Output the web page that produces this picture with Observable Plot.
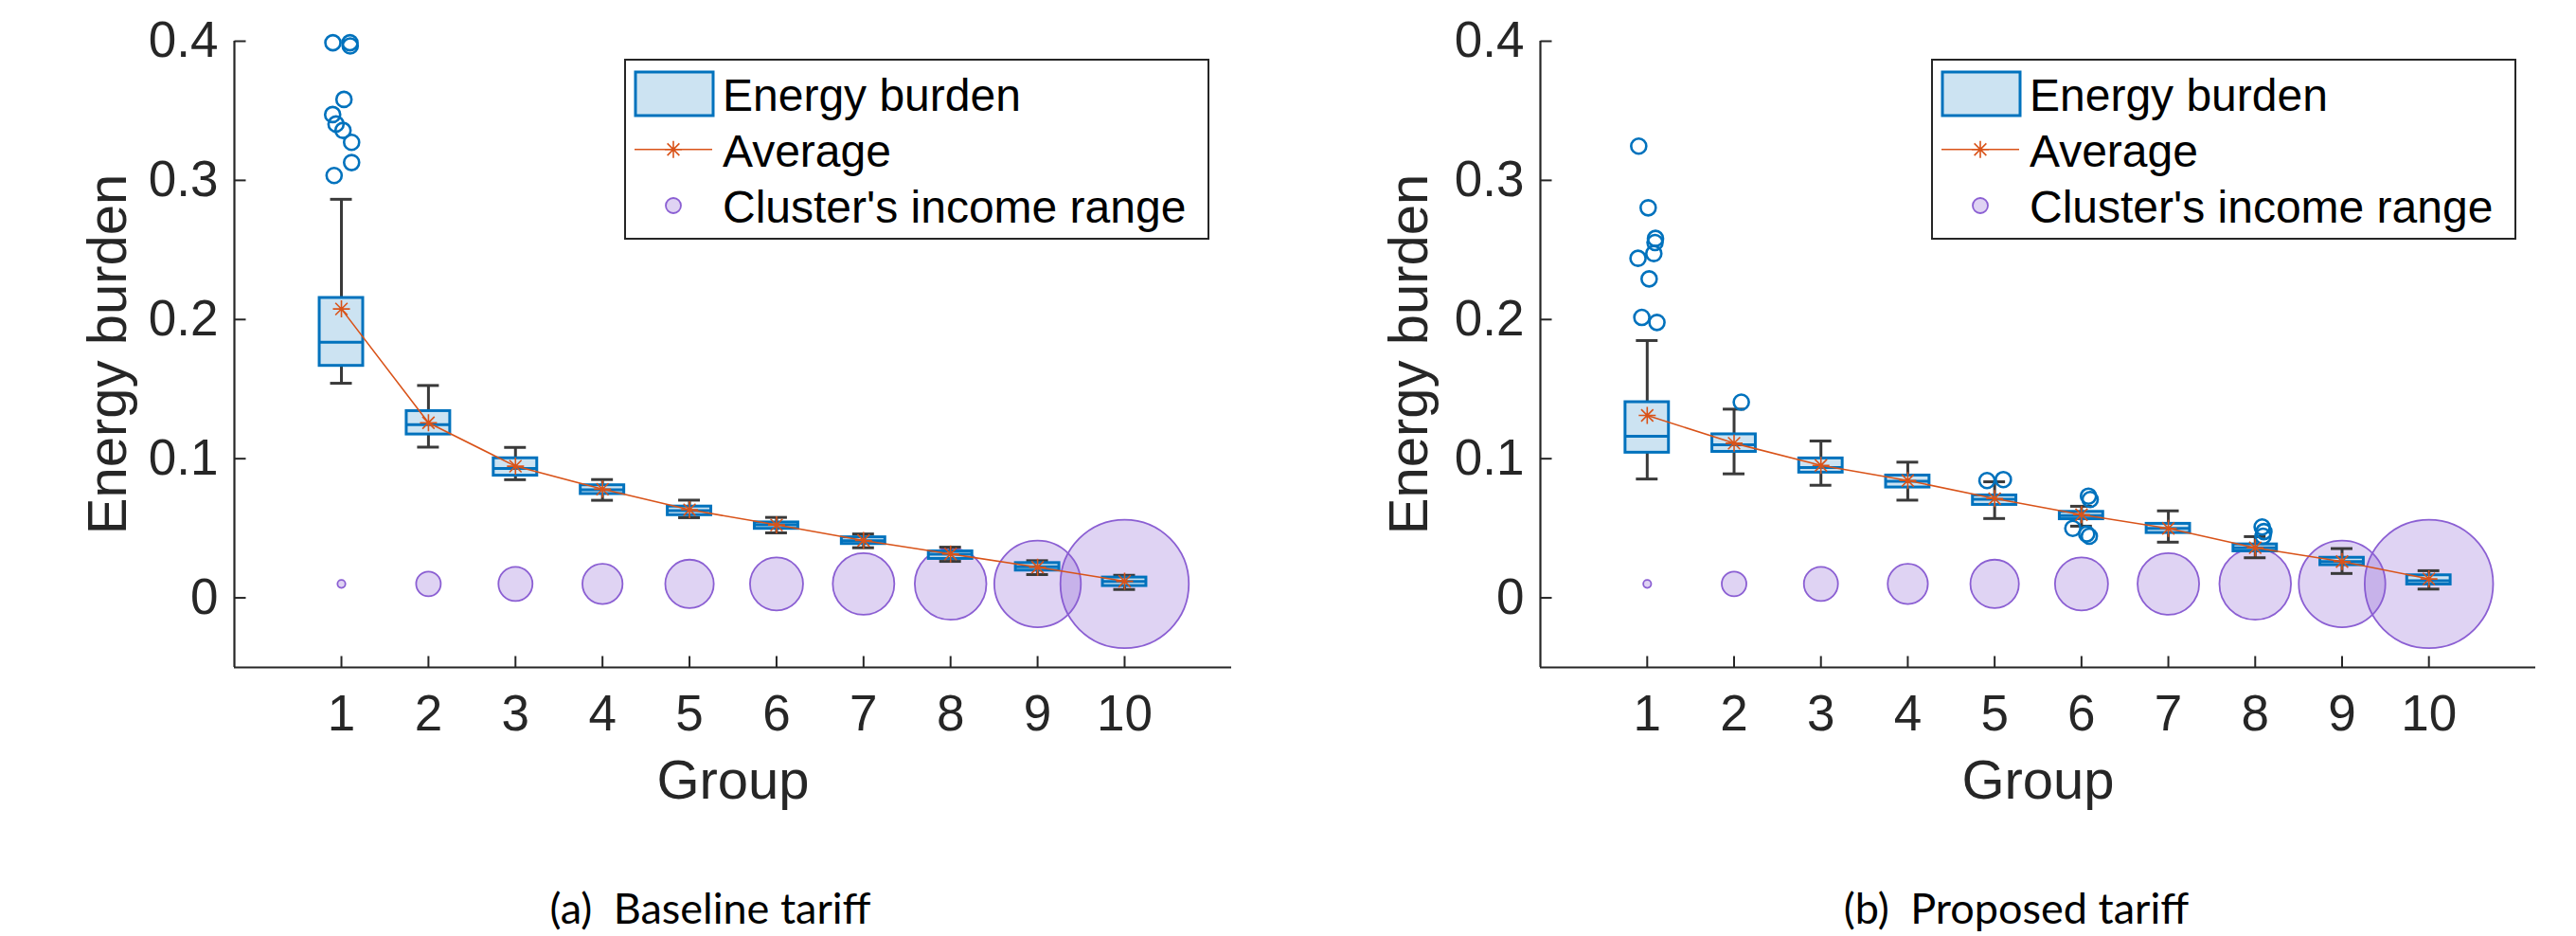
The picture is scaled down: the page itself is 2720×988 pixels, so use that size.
<!DOCTYPE html>
<html>
<head>
<meta charset="utf-8">
<script src="https://cdn.jsdelivr.net/npm/d3@7"></script>
<script src="https://cdn.jsdelivr.net/npm/@observablehq/plot@0.6"></script>
<style>
  html, body { margin: 0; padding: 0; background: #fff; }
  #page { position: relative; width: 2720px; height: 988px; overflow: hidden; font-family: "Liberation Sans", Arial, sans-serif; }
  .panel { position: absolute; top: 0; }
  #overlay { position: absolute; left: 0; top: 0; pointer-events: none; }
</style>
</head>
<body>
<div id="page"></div>
<script>
// ---------------- DATA ----------------
const groups = [1, 2, 3, 4, 5, 6, 7, 8, 9, 10];
const yTicks = [0, 0.1, 0.2, 0.3, 0.4];
const yTickLabels = ["0", "0.1", "0.2", "0.3", "0.4"];
const xDomain = [-0.23, 11.23];
const yDomain = [-0.05, 0.4];
const yLabel = "Energy burden";
const xLabel = "Group";
const legendLabels = ["Energy burden", "Average", "Cluster's income range"];
const captions = ["(a)\u2002Baseline tariff", "(b)\u2002Proposed tariff"];

// (a) Baseline tariff — box plot summary per group
const baseWhiskerLow  = [0.1542, 0.1083, 0.0849, 0.0701, 0.0576, 0.0467, 0.0360, 0.0262, 0.0167, 0.0060];
const baseQ1          = [0.1667, 0.1174, 0.0878, 0.0746, 0.0594, 0.0496, 0.0387, 0.0280, 0.0196, 0.0085];
const baseMedian      = [0.1837, 0.1245, 0.0930, 0.0776, 0.0627, 0.0524, 0.0411, 0.0314, 0.0224, 0.0117];
const baseQ3          = [0.2155, 0.1342, 0.1003, 0.0809, 0.0656, 0.0542, 0.0435, 0.0334, 0.0250, 0.0146];
const baseWhiskerHigh = [0.2864, 0.1526, 0.1081, 0.0850, 0.0702, 0.0578, 0.0459, 0.0364, 0.0267, 0.0162];
const baseMean        = [0.2076, 0.1258, 0.0946, 0.0781, 0.0633, 0.0524, 0.0412, 0.0315, 0.0220, 0.0119];
// outliers: [group, value, jitter]
const baseOutliers = [
  [1, 0.3989, -0.098], [1, 0.3989, 0.098], [1, 0.3966, 0.101], [1, 0.3582, 0.029],
  [1, 0.3473, -0.101], [1, 0.3405, -0.062], [1, 0.3359, 0.018], [1, 0.3273, 0.117],
  [1, 0.3128, 0.117], [1, 0.3035, -0.084]
];

// (b) Proposed tariff
const propWhiskerLow  = [0.0854, 0.0891, 0.0809, 0.0702, 0.0570, 0.0515, 0.0400, 0.0288, 0.0175, 0.0063];
const propQ1          = [0.1043, 0.1049, 0.0900, 0.0793, 0.0668, 0.0565, 0.0466, 0.0334, 0.0235, 0.0096];
const propMedian      = [0.1161, 0.1100, 0.0936, 0.0838, 0.0709, 0.0591, 0.0499, 0.0360, 0.0261, 0.0123];
const propQ3          = [0.1406, 0.1175, 0.1002, 0.0879, 0.0736, 0.0618, 0.0532, 0.0384, 0.0288, 0.0162];
const propWhiskerHigh = [0.1849, 0.1356, 0.1127, 0.0975, 0.0834, 0.0658, 0.0625, 0.0440, 0.0354, 0.0195];
const propMean        = [0.1311, 0.1111, 0.0952, 0.0843, 0.0713, 0.0598, 0.0499, 0.0360, 0.0261, 0.0136];
const propOutliers = [
  [1, 0.3246, -0.098], [1, 0.2803, 0.011], [1, 0.2583, 0.095], [1, 0.2553, 0.090],
  [1, 0.2474, 0.076], [1, 0.2440, -0.106], [1, 0.2292, 0.022], [1, 0.2015, -0.062],
  [1, 0.1979, 0.112],
  [2, 0.1406, 0.083],
  [5, 0.0843, -0.088], [5, 0.0850, 0.100],
  [6, 0.0731, 0.080], [6, 0.0707, 0.100], [6, 0.0499, -0.100], [6, 0.0459, 0.060], [6, 0.0443, 0.090],
  [8, 0.0509, 0.080], [8, 0.0476, 0.100], [8, 0.0443, 0.090]
];

// Cluster's income range (relative, bubble area), drawn at a fixed level
const bubbleLevel = 0.01;
const incomeRangeRel = [0.38, 3.68, 7.05, 9.78, 14.26, 17.06, 22.98, 31.08, 45.43, 100];

// ---------------- STYLE ----------------
const boxStroke = "#0072BD";
const boxFill = "#CCE3F2";
const whiskerColor = "#3a3a3a";
const avgColor = "#D95319";
const bubbleFill = "#7E4FD0";
const bubbleStroke = "#8B5FD3";
const bubbleOpacity = 0.25;
const axisColor = "#262626";
const boxHalf = 0.25, capHalf = 0.125;

const asterisk8 = {
  draw(ctx, size) {
    const r = Math.sqrt(size / Math.PI), d = r * Math.SQRT1_2;
    ctx.moveTo(-r, 0); ctx.lineTo(r, 0);
    ctx.moveTo(0, -r); ctx.lineTo(0, r);
    ctx.moveTo(-d, -d); ctx.lineTo(d, d);
    ctx.moveTo(-d, d); ctx.lineTo(d, -d);
  }
};
const tickRight = { draw(ctx) { ctx.moveTo(0, 0); ctx.lineTo(12, 0); } };
const tickUp = { draw(ctx) { ctx.moveTo(0, 0); ctx.lineTo(0, -12); } };

function makePanel(s, outliers, o) {
  const rows = groups.map((g, i) => ({
    g, lo: s.lo[i], q1: s.q1[i], med: s.med[i], q3: s.q3[i], hi: s.hi[i], mean: s.mean[i]
  }));
  const bubbles = groups.map((g, i) => ({g, y: bubbleLevel, s: incomeRangeRel[i]}));
  const outl = outliers.map(([g, v, j]) => ({g, v, j}));
  return Plot.plot({
    width: 1360,
    height: 900,
    marginLeft: o.ml,
    marginRight: o.mr,
    marginTop: 43,
    marginBottom: 196,
    x: {domain: xDomain},
    y: {domain: yDomain},
    r: {type: "sqrt", domain: [0, 100], range: [0, 67.8]},
    style: {fontFamily: "'Liberation Sans', Arial, sans-serif", fontSize: "52px", color: axisColor, background: "transparent", overflow: "visible"},
    marks: [
      Plot.dot(bubbles, {x: "g", y: "y", r: "s", fill: bubbleFill, fillOpacity: bubbleOpacity, stroke: bubbleStroke, strokeWidth: 1.8}),
      Plot.ruleX(rows, {x: "g", y1: "q3", y2: "hi", stroke: whiskerColor, strokeWidth: 3}),
      Plot.ruleX(rows, {x: "g", y1: "lo", y2: "q1", stroke: whiskerColor, strokeWidth: 3}),
      Plot.ruleY(rows, {y: "hi", x1: d => d.g - capHalf, x2: d => d.g + capHalf, stroke: whiskerColor, strokeWidth: 3}),
      Plot.ruleY(rows, {y: "lo", x1: d => d.g - capHalf, x2: d => d.g + capHalf, stroke: whiskerColor, strokeWidth: 3}),
      Plot.rect(rows, {x1: d => d.g - boxHalf, x2: d => d.g + boxHalf, y1: "q1", y2: "q3", fill: boxFill, stroke: boxStroke, strokeWidth: 3}),
      Plot.ruleY(rows, {y: "med", x1: d => d.g - boxHalf, x2: d => d.g + boxHalf, stroke: boxStroke, strokeWidth: 3}),
      Plot.dot(outl, {x: d => d.g + d.j, y: "v", r: 8, fill: "none", stroke: boxStroke, strokeWidth: 2.6}),
      Plot.line(rows, {x: "g", y: "mean", stroke: avgColor, strokeWidth: 1.6}),
      Plot.dot(rows, {x: "g", y: "mean", r: 9, symbol: asterisk8, fill: "none", stroke: avgColor, strokeWidth: 1.6}),
      // axes
      Plot.ruleX([xDomain[0]], {stroke: axisColor, strokeWidth: 2.2}),
      Plot.ruleY([yDomain[0]], {stroke: axisColor, strokeWidth: 2.2}),
      Plot.dot(yTicks, {y: d => d, frameAnchor: "left", r: 1, symbol: tickRight, fill: "none", stroke: axisColor, strokeWidth: 2}),
      Plot.dot(groups, {x: d => d, frameAnchor: "bottom", r: 1, symbol: tickUp, fill: "none", stroke: axisColor, strokeWidth: 2}),
      Plot.axisY({ticks: yTicks, tickSize: 0, tickPadding: 17, fontSize: 53, label: null,
        tickFormat: d => yTickLabels[yTicks.indexOf(d)]}),
      Plot.axisX({ticks: groups, tickSize: 0, tickPadding: 29, fontSize: 53, label: null, tickFormat: d => String(d)}),
      Plot.text([yLabel], {text: d => d, frameAnchor: "left", textAnchor: "middle", lineAnchor: "middle",
        dx: o.ylabelDx, rotate: -90, fontSize: 58, fill: axisColor}),
      Plot.text([xLabel], {text: d => d, frameAnchor: "bottom", textAnchor: "middle", lineAnchor: "middle",
        dy: 120, fontSize: 58, fill: axisColor})
    ]
  });
}

const page = document.getElementById("page");
const p1 = makePanel({lo: baseWhiskerLow, q1: baseQ1, med: baseMedian, q3: baseQ3, hi: baseWhiskerHigh, mean: baseMean},
  baseOutliers, {ml: 247, mr: 60, ylabelDx: -133});
p1.classList.add("panel"); p1.style.left = "0px";
page.appendChild(p1);
const p2 = makePanel({lo: propWhiskerLow, q1: propQ1, med: propMedian, q3: propQ3, hi: propWhiskerHigh, mean: propMean},
  propOutliers, {ml: 266, mr: 43, ylabelDx: -138});
p2.classList.add("panel"); p2.style.left = "1360px";
page.appendChild(p2);

// overlay: legends + captions
const svg = d3.select(page).append("svg").attr("id", "overlay").attr("width", 2720).attr("height", 988);
function legend(lx, ly) {
  const g = svg.append("g").attr("transform", `translate(${lx},${ly})`)
    .style("font-family", "'Liberation Sans', Arial, sans-serif").style("font-size", "48px");
  g.append("rect").attr("x", 0).attr("y", 0).attr("width", 616).attr("height", 189)
    .attr("fill", "#fff").attr("stroke", axisColor).attr("stroke-width", 2);
  g.append("rect").attr("x", 11).attr("y", 13).attr("width", 82).attr("height", 46)
    .attr("fill", boxFill).attr("stroke", boxStroke).attr("stroke-width", 3);
  g.append("line").attr("x1", 10).attr("x2", 92).attr("y1", 94.7).attr("y2", 94.7)
    .attr("stroke", avgColor).attr("stroke-width", 1.6);
  const p = d3.path(); asterisk8.draw(p, 81 * Math.PI);
  g.append("path").attr("d", p.toString()).attr("transform", "translate(51,94.7)")
    .attr("fill", "none").attr("stroke", avgColor).attr("stroke-width", 1.6);
  g.append("circle").attr("cx", 51).attr("cy", 154).attr("r", 8)
    .attr("fill", bubbleFill).attr("fill-opacity", bubbleOpacity).attr("stroke", bubbleStroke).attr("stroke-width", 1.8);
  const base = [53.7, 113, 172];
  legendLabels.forEach((t, i) => g.append("text").attr("x", 103).attr("y", base[i]).attr("fill", "#000").text(t));
}
legend(660, 63);
legend(2040, 63);

[[750, captions[0]], [2129, captions[1]]].forEach(([x, t]) => {
  svg.append("text").attr("x", x).attr("y", 975).attr("text-anchor", "middle")
    .style("font-family", "Lato, 'Open Sans', sans-serif").style("font-size", "45px")
    .attr("fill", "#000").text(t);
});
</script>
</body>
</html>
